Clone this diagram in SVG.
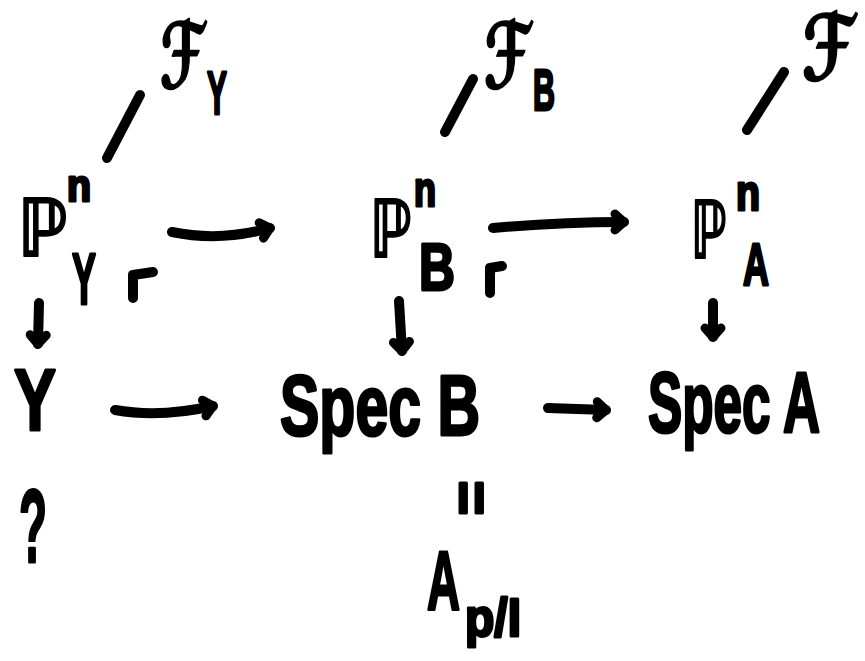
<svg xmlns="http://www.w3.org/2000/svg" width="865" height="661" viewBox="0 0 865 661">
<style>
.t{font-family:"Liberation Sans","DejaVu Sans",sans-serif;font-weight:bold;fill:#000;stroke:#000;stroke-width:3;stroke-linejoin:round}
.m{font-family:"DejaVu Sans","Liberation Sans",sans-serif;font-weight:bold;fill:#000;stroke:#000;stroke-width:2;stroke-linejoin:round}
.ln{fill:none;stroke:#000;stroke-width:10;stroke-linecap:round;stroke-linejoin:round}
.ar{fill:none;stroke:#000;stroke-width:10;stroke-linecap:round;marker-end:url(#ah)}
</style>
<defs>
<marker id="ah" viewBox="-14 -14 28 28" markerWidth="28" markerHeight="28" markerUnits="userSpaceOnUse" orient="auto" refX="0" refY="0">
<path d="M-9,-8 L0,0 L-9,8" fill="none" stroke="#000" stroke-width="9" stroke-linecap="round" stroke-linejoin="round"/>
</marker>
</defs>
<rect width="865" height="661" fill="#fff"/>

<g id="FY">
<text class="m" x="160" y="88" font-size="90" textLength="44" lengthAdjust="spacingAndGlyphs">ℱ</text>
<text class="t" x="207" y="114" font-size="62" textLength="20" lengthAdjust="spacingAndGlyphs">Y</text>
</g>
<g id="FB">
<text class="m" x="484" y="88" font-size="90" textLength="46" lengthAdjust="spacingAndGlyphs">ℱ</text>
<text class="t" x="533" y="110" font-size="58" textLength="22" lengthAdjust="spacingAndGlyphs">B</text>
</g>
<g id="F">
<text class="m" x="802" y="80" font-size="90" textLength="52" lengthAdjust="spacingAndGlyphs">ℱ</text>
</g>

<g id="PY">
<text class="m" x="18" y="256" font-size="80" textLength="50" lengthAdjust="spacingAndGlyphs">ℙ</text>
<text class="t" x="67" y="201" font-size="44" textLength="24" lengthAdjust="spacingAndGlyphs">n</text>
<text class="t" x="72" y="304" font-size="72" textLength="24" lengthAdjust="spacingAndGlyphs">Y</text>
</g>
<g id="PB">
<text class="m" x="370" y="257" font-size="80" textLength="42" lengthAdjust="spacingAndGlyphs">ℙ</text>
<text class="t" x="414" y="206" font-size="48" textLength="22" lengthAdjust="spacingAndGlyphs">n</text>
<text class="t" x="419" y="290" font-size="66" textLength="36" lengthAdjust="spacingAndGlyphs">B</text>
</g>
<g id="PA">
<text class="m" x="691" y="258" font-size="80" textLength="36" lengthAdjust="spacingAndGlyphs">ℙ</text>
<text class="t" x="736" y="210" font-size="50" textLength="24" lengthAdjust="spacingAndGlyphs">n</text>
<text class="t" x="743" y="285" font-size="60" textLength="26" lengthAdjust="spacingAndGlyphs">A</text>
</g>

<g id="Y">
<text class="t" x="14" y="430" font-size="88" textLength="42" lengthAdjust="spacingAndGlyphs">Y</text>
</g>
<g id="SpecB">
<text class="t" x="280" y="435" font-size="86" textLength="200" lengthAdjust="spacingAndGlyphs">Spec B</text>
</g>
<g id="SpecA">
<text class="t" x="648" y="432" font-size="86" textLength="172" lengthAdjust="spacingAndGlyphs">Spec A</text>
</g>
<g id="Q">
<text class="t" x="19" y="562" font-size="104" textLength="28" lengthAdjust="spacingAndGlyphs">?</text>
</g>
<g id="Eq">
<text class="t" x="0" y="0" font-size="60" text-anchor="middle" transform="translate(472,498) rotate(90) translate(0,20)">=</text>
</g>
<g id="Apl">
<text class="t" x="427" y="610" font-size="84" textLength="33" lengthAdjust="spacingAndGlyphs">A</text>
<text class="t" x="465" y="636" font-size="54" textLength="56" lengthAdjust="spacingAndGlyphs">p/I</text>
</g>

<g id="connectors">
<path class="ln" d="M107,158 L140,95"/>
<path class="ln" d="M445,132 L473,79"/>
<path class="ln" d="M747,130 L784,72"/>
<path class="ln" d="M133,298 L133,275 L153,272"/>
<path class="ln" d="M490,293 L490,268 L502,266"/>
<path class="ar" d="M172,232 Q220,242 270,228"/>
<path class="ar" d="M493,228 Q560,222 624,222"/>
<path class="ar" d="M115,410 Q160,418 213,406"/>
<path class="ar" d="M548,408 L606,410"/>
<path class="ar" d="M39,303 L38,344"/>
<path class="ar" d="M399,301 L402,351"/>
<path class="ar" d="M713,303 L713,337"/>
</g>
</svg>
